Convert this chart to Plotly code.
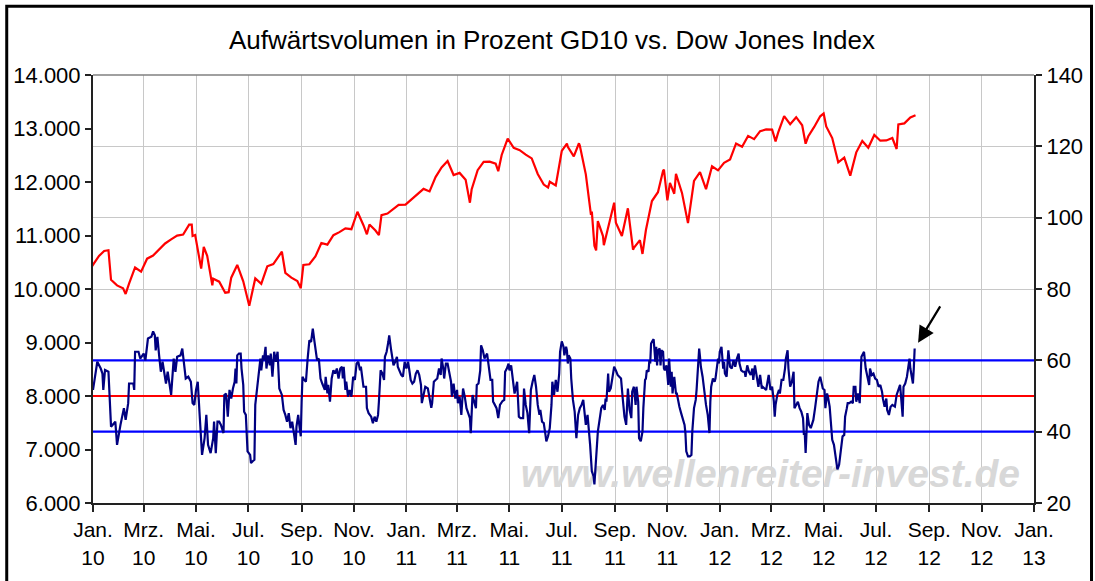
import plotly.graph_objects as go
import pandas as pd

# ---------------- data ----------------
dow_dates = [
    "2009-12-31", "2010-01-08", "2010-01-14", "2010-01-19", "2010-01-22", "2010-01-29", "2010-02-05", "2010-02-08",
    "2010-02-12", "2010-02-19", "2010-02-26", "2010-03-05", "2010-03-12", "2010-03-19", "2010-03-26", "2010-04-02",
    "2010-04-09", "2010-04-16", "2010-04-23", "2010-04-26", "2010-04-27", "2010-04-30", "2010-05-06", "2010-05-07",
    "2010-05-10", "2010-05-14", "2010-05-20", "2010-05-21", "2010-05-28", "2010-06-04", "2010-06-08", "2010-06-11",
    "2010-06-18", "2010-06-25", "2010-07-02", "2010-07-09", "2010-07-16", "2010-07-23", "2010-07-30", "2010-08-09",
    "2010-08-13", "2010-08-20", "2010-08-27", "2010-08-31", "2010-09-03", "2010-09-10", "2010-09-17", "2010-09-24",
    "2010-10-01", "2010-10-08", "2010-10-15", "2010-10-22", "2010-10-29", "2010-11-05", "2010-11-12", "2010-11-16",
    "2010-11-19", "2010-11-26", "2010-11-30", "2010-12-03", "2010-12-10", "2010-12-17", "2010-12-23", "2010-12-31",
    "2011-01-07", "2011-01-14", "2011-01-21", "2011-01-28", "2011-02-04", "2011-02-11", "2011-02-18", "2011-02-25",
    "2011-03-04", "2011-03-11", "2011-03-16", "2011-03-18", "2011-03-25", "2011-04-01", "2011-04-08", "2011-04-15",
    "2011-04-18", "2011-04-22", "2011-04-29", "2011-05-06", "2011-05-13", "2011-05-20", "2011-05-27", "2011-06-03",
    "2011-06-10", "2011-06-15", "2011-06-17", "2011-06-24", "2011-07-01", "2011-07-07", "2011-07-08", "2011-07-15",
    "2011-07-21", "2011-07-22", "2011-07-29", "2011-08-04", "2011-08-05", "2011-08-08", "2011-08-10", "2011-08-12",
    "2011-08-18", "2011-08-19", "2011-08-26", "2011-08-31", "2011-09-02", "2011-09-09", "2011-09-16", "2011-09-22",
    "2011-09-23", "2011-09-30", "2011-10-03", "2011-10-07", "2011-10-14", "2011-10-21", "2011-10-27", "2011-10-28",
    "2011-11-01", "2011-11-04", "2011-11-09", "2011-11-11", "2011-11-18", "2011-11-25", "2011-12-02", "2011-12-09",
    "2011-12-16", "2011-12-23", "2011-12-30", "2012-01-06", "2012-01-13", "2012-01-20", "2012-01-27", "2012-02-03",
    "2012-02-10", "2012-02-17", "2012-02-24", "2012-03-02", "2012-03-06", "2012-03-09", "2012-03-16", "2012-03-23",
    "2012-03-30", "2012-04-06", "2012-04-10", "2012-04-13", "2012-04-20", "2012-04-27", "2012-05-01", "2012-05-04",
    "2012-05-11", "2012-05-18", "2012-05-25", "2012-06-01", "2012-06-08", "2012-06-15", "2012-06-22", "2012-06-29",
    "2012-07-06", "2012-07-13", "2012-07-20", "2012-07-25", "2012-07-27", "2012-08-03", "2012-08-10", "2012-08-16",
]
dow_close = [
    10428, 10618, 10711, 10725, 10172, 10067, 10012, 9908,
    10099, 10402, 10325, 10567, 10625, 10742, 10851, 10927,
    10997, 11019, 11204, 11205, 10991, 11009, 10520, 10380,
    10785, 10620, 10068, 10193, 10137, 9931, 9940, 10212,
    10450, 10143, 9686, 10198, 10097, 10424, 10466, 10698,
    10303, 10213, 10150, 10015, 10448, 10463, 10607, 10860,
    10829, 11006, 11063, 11133, 11118, 11444, 11192, 11023,
    11204, 11092, 11006, 11382, 11410, 11492, 11573, 11578,
    11674, 11787, 11871, 11824, 12092, 12273, 12391, 12130,
    12170, 12044, 11613, 11859, 12220, 12376, 12380, 12342,
    12202, 12505, 12811, 12638, 12596, 12512, 12441, 12151,
    11952, 11898, 12004, 11934, 12582, 12719, 12657, 12480,
    12724, 12681, 12143, 11384, 11445, 10810, 10720, 11269,
    10990, 10818, 11285, 11614, 11240, 10992, 11509, 10734,
    10771, 10913, 10655, 11103, 11644, 11809, 12209, 12231,
    11657, 11983, 11780, 12153, 11796, 11231, 12019, 12184,
    11867, 12294, 12218, 12360, 12422, 12720, 12660, 12862,
    12801, 12950, 12983, 12978, 12759, 12922, 13233, 13081,
    13212, 13060, 12716, 12850, 13029, 13228, 13279, 13038,
    12821, 12369, 12455, 12119, 12554, 12767, 12640, 12880,
    12772, 12777, 12822, 12617, 13075, 13096, 13207, 13250,
]

# upvolume percentage, 10-day average (days counted from 2010-01-01)
gd10_days = [
    0, 5, 9, 11, 12, 14, 18, 19, 21, 26,
    28, 32, 36, 38, 41, 42, 47, 48, 49, 53,
    55, 59, 61, 64, 68, 70, 72, 73, 75, 77,
    79, 81, 85, 87, 91, 94, 96, 98, 102, 104,
    106, 108, 111, 114, 116, 118, 120, 122, 124, 127,
    130, 132, 134, 137, 140, 141, 143, 145,
    147, 149, 152, 153, 155, 157, 159, 161, 163, 165,
    166, 167, 168, 170, 172, 173, 175, 176, 178, 180,
    183, 184, 186, 188, 189, 190, 191, 193, 195, 196,
    198, 199, 201, 202, 204, 206, 207, 209, 211, 213,
    215, 216, 217, 220, 222, 224, 226, 228, 230, 232,
    234, 236, 237, 239, 240, 242, 243, 244, 246, 248,
    250, 252, 254, 256, 258, 260, 261, 263, 265, 267,
    270, 271, 273, 274, 276, 278, 280, 282, 284, 286,
    288, 290, 291, 292, 294, 295, 297, 299, 301,
    303, 305, 307, 309, 311, 312, 314, 315, 318, 319,
    321, 324, 326, 328, 330, 332, 333, 335, 337, 339,
    340, 342, 344, 345, 347, 349, 350, 352, 354, 355,
    357, 359, 361, 363, 365, 367, 369, 370, 372, 374,
    376, 378, 380, 382, 383, 385, 387, 390, 392, 394,
    395, 397, 399, 401, 403, 405, 406, 408, 409, 411,
    413, 415, 417, 418, 420, 422, 424, 425, 427, 429,
    431, 433, 435, 437, 439, 440, 442, 444, 446, 447,
    449, 451, 452, 454, 456,
    459, 461, 463, 465, 466, 467, 470, 472, 474, 477,
    479, 480, 482, 484, 485, 487, 489, 491, 492, 494,
    496, 498, 501, 502, 504, 506, 508, 509, 510, 512,
    514, 516, 518, 520, 521, 523, 525, 527, 528, 530,
    532, 534, 535, 537, 539, 541, 543, 544, 546, 548,
    549, 551, 552, 553, 554, 556, 557, 559, 561, 563,
    565, 567, 569, 571, 573, 574, 576, 578, 579, 581,
    583, 584, 586, 588, 590, 592, 594, 596, 597, 598,
    600, 601, 603, 605, 607, 609, 611, 613,
    615, 617, 619, 621, 622, 623, 625, 627, 628, 630,
    632, 633, 635, 636, 638, 640, 641, 643, 644, 645,
    647, 648, 649, 650, 652, 653, 655, 656, 657, 658,
    660, 661, 662, 664, 665, 666, 668, 670, 671, 673,
    674, 675, 677, 678, 679, 680, 682, 683, 685, 687,
    689, 690, 691, 693, 695, 697, 698, 700, 702, 703,
    705, 706, 707, 708, 710, 711, 713, 714, 716, 718,
    719, 720, 722, 724, 725, 727, 728, 729, 730, 732,
    734, 735, 736, 738, 740, 742, 744, 746, 748, 750,
    752, 753, 755, 757, 759, 760, 762, 764, 766, 768,
    769,
    771, 773, 775, 777, 779, 780, 782, 784, 786, 787,
    789, 791, 793, 794, 795, 797, 799, 800, 802, 804,
    806, 807, 809, 810, 812, 814, 816, 817, 819, 821,
    823, 825, 827, 828, 829, 830, 832, 834, 836, 837,
    839, 841, 843, 845, 847, 849, 850, 852, 853, 855,
    856, 858, 860, 861, 863, 865, 867, 869, 871, 873,
    875, 876, 878, 879, 881, 883, 885, 886, 888, 889,
    891, 893, 895, 897,
    898, 900, 902, 904, 905, 907, 909, 911, 913, 915,
    917, 919, 920, 922, 924, 925, 927, 929, 931, 933,
    934, 936, 938, 940, 941, 943, 944, 946, 948, 950,
    951, 952, 954, 955, 956, 957,
]
gd10_vals = [
    51.7, 59.6, 57.7, 56.3, 51.7, 57.3, 56.8, 49.8, 41.4, 42.8,
    36.3, 41.9, 46.6, 43.3, 48.0, 53.5, 53.5, 51.7, 62.4, 62.4,
    60.5, 61.9, 60.0, 66.1, 66.6, 68.1, 67.0, 62.8, 66.6, 61.4,
    56.8, 59.6, 53.5, 56.8, 50.3, 60.5, 56.8, 61.0, 61.4, 63.3,
    58.6, 54.9, 55.4, 54.0, 48.0, 47.5, 51.7, 54.0, 45.6, 33.5,
    38.2, 44.7, 36.3, 34.0, 38.2, 42.8, 34.0, 42.8,
    42.8, 41.9, 39.6, 50.3, 50.7, 44.2, 51.7, 49.3, 52.1, 54.0,
    57.7, 53.5, 61.4, 61.9, 61.9, 57.7, 53.1, 45.6, 44.7, 34.5,
    33.5, 31.2, 31.7, 32.1, 47.5, 49.8, 52.1, 57.7, 60.5, 57.2,
    61.4, 60.0, 63.8, 57.7, 61.4, 58.6, 61.9, 55.4, 62.4, 59.6,
    62.4, 57.2, 52.1, 50.3, 46.1, 44.7, 42.8, 45.2, 41.0, 42.8,
    38.7, 36.3, 41.4, 44.7, 42.4, 38.7, 48.4, 55.4, 54.5, 54.0,
    60.5, 65.6, 65.2, 68.9, 65.2, 60.5, 60.0, 60.5, 54.9, 53.5,
    51.7, 55.4, 50.7, 53.1, 48.4, 54.9, 57.2, 56.3, 57.7, 54.9,
    57.7, 58.2, 54.9, 58.2, 51.7, 54.0, 49.8, 51.7, 49.8,
    55.4, 54.5, 59.1, 59.6, 57.2, 58.2, 54.5, 52.6, 52.6, 46.6,
    45.2, 44.2, 42.4, 44.2, 42.8, 44.7, 48.4, 57.2, 56.3, 54.5,
    61.0, 62.4, 65.2, 67.0, 63.3, 59.6, 58.6, 59.6, 61.0, 58.2,
    56.8, 55.9, 55.4, 59.6, 57.7, 59.6, 56.3, 54.5, 53.5, 54.0,
    56.3, 57.2, 55.9, 53.1, 48.0, 50.3, 52.6, 52.1, 49.3, 46.7,
    48.0, 54.0, 54.5, 54.9, 57.7, 55.9, 60.5, 57.7, 54.9, 59.1,
    59.1, 56.3, 54.0, 49.8, 53.5, 49.3, 51.7, 48.0, 49.8, 44.7,
    52.1, 49.8, 46.6, 45.2, 43.8, 39.6, 50.3, 48.4, 46.6, 53.1,
    53.5, 57.2, 64.2, 62.8, 60.5,
    61.9, 57.7, 54.5, 54.5, 48.4, 48.0, 46.6, 43.8, 47.5, 48.6,
    48.9, 56.8, 57.7, 59.1, 57.2, 58.6, 54.5, 50.7, 51.7, 54.0,
    44.2, 43.8, 43.8, 52.1, 47.5, 45.2, 39.6, 45.2, 51.7, 54.0,
    55.9, 52.6, 47.5, 44.7, 46.1, 42.8, 42.4, 39.1, 37.3, 38.7,
    41.0, 47.5, 54.0, 50.3, 54.5, 51.2, 56.3, 62.4, 65.3, 63.8,
    61.4, 63.8, 62.8, 59.1, 61.4, 60.5, 54.9, 48.9, 45.6, 38.2,
    44.7, 46.6, 47.5, 48.9, 44.2, 41.9, 44.7, 36.8, 36.3, 28.9,
    27.5, 25.2, 33.5, 40.0, 43.3, 46.6, 47.5, 46.1, 49.3, 48.4,
    56.3, 51.2, 52.1, 55.4, 58.2, 57.2, 55.9, 55.4,
    54.9, 49.3, 44.2, 41.9, 48.0, 52.1, 46.1, 43.8, 51.2, 52.6,
    47.5, 52.6, 48.4, 38.2, 37.3, 40.0, 46.6, 54.5, 54.9, 57.2,
    56.8, 60.0, 59.1, 64.7, 65.6, 65.9, 59.6, 63.8, 58.6, 62.8,
    63.3, 58.6, 62.8, 62.4, 57.7, 57.2, 58.6, 53.1, 60.5, 52.6,
    56.8, 50.7, 55.4, 52.6, 50.7, 50.7, 48.0, 47.0, 45.2, 43.3,
    41.9, 39.6, 34.5, 33.1, 33.1, 33.5, 40.0, 46.6, 48.9, 51.7,
    58.6, 63.3, 61.0, 58.2, 55.4, 53.1, 49.3, 47.5, 44.7, 39.6,
    48.4, 52.6, 54.9, 54.0, 54.9, 59.6, 60.5, 59.1, 62.4, 63.8,
    57.7, 59.6, 56.3, 55.4, 62.8, 58.2, 57.7, 60.0, 58.2, 60.5,
    61.9, 59.1, 57.2, 56.8, 56.8, 55.4, 58.6, 56.8, 55.9, 57.7,
    54.5,
    58.6, 55.4, 52.6, 55.9, 52.1, 52.6, 52.1, 51.7, 54.5, 55.9,
    51.7, 52.6, 48.4, 44.2, 47.5, 50.3, 51.7, 50.7, 54.5, 54.5,
    57.7, 60.5, 62.8, 57.7, 52.6, 54.0, 56.8, 46.6, 47.5, 48.4,
    46.6, 45.6, 43.8, 39.1, 39.6, 34.0, 45.2, 41.9, 41.0, 41.9,
    43.3, 46.6, 50.7, 54.0, 55.4, 53.5, 52.1, 51.7, 46.6, 50.7,
    49.8, 47.0, 41.4, 37.7, 36.3, 32.1, 29.4, 30.7, 34.5, 38.7,
    39.1, 44.2, 46.6, 48.0, 48.0, 48.4, 48.0, 52.6, 52.6, 48.4,
    50.7, 48.0, 61.0, 61.9,
    62.4, 57.7, 54.9, 53.1, 57.7, 55.9, 56.3, 54.9, 54.5, 52.6,
    53.1, 51.2, 49.3, 47.0, 49.3, 46.1, 44.7, 47.0, 47.5, 47.0,
    47.0, 50.3, 52.1, 53.1, 50.3, 44.2, 52.6, 53.5, 55.4, 60.0,
    60.5, 57.7, 54.5, 53.5, 57.7, 63.3,
]
assert len(gd10_days) == len(gd10_vals), (len(gd10_days), len(gd10_vals))

level_upper = 60
level_mid = 50
level_lower = 40

left_ticks = [6000, 7000, 8000, 9000, 10000, 11000, 12000, 13000, 14000]
right_ticks = [20, 40, 60, 80, 100, 120, 140]
month_names = {1: "Jan.", 3: "Mrz.", 5: "Mai.", 7: "Jul.", 9: "Sep.", 11: "Nov."}
x_start, x_end = "2010-01-01", "2013-01-01"

# ---------------- figure ----------------
FONT = "Arial, Liberation Sans, sans-serif"
W, H = 1095, 581
ML, MR, MT, MB = 93, 53, 75, 76
PW, PH = W - ML - MR, H - MT - MB


def px_x(p):
    return (p - ML) / PW


def px_y(p):
    return 1 - (p - MT) / PH


base = pd.Timestamp(x_start)
gd10_dates = [base + pd.Timedelta(days=d) for d in gd10_days]
tick_dates = pd.date_range(x_start, x_end, freq="2MS")
tick_text = [f"{month_names[d.month]}<br>{d.strftime('%y')}" for d in tick_dates]

fig = go.Figure()

# watermark (below the lines)
fig.add_trace(go.Scatter(
    x=[base + pd.Timedelta(days=789)], y=[27.2], yaxis="y2",
    mode="text", text=["www.wellenreiter-invest.de"],
    textfont=dict(family=FONT, size=39, color="#d8d8d8", weight="bold", style="italic"),
    hoverinfo="skip", showlegend=False, cliponaxis=False,
))

# level lines
for lvl, col in [(level_upper, "#0000ff"), (level_mid, "#ff0000"), (level_lower, "#0000ff")]:
    fig.add_trace(go.Scatter(
        x=[x_start, x_end], y=[lvl, lvl], yaxis="y2", mode="lines",
        line=dict(color=col, width=2.2), hoverinfo="skip", showlegend=False,
    ))

fig.add_trace(go.Scatter(
    x=gd10_dates, y=gd10_vals, yaxis="y2", mode="lines",
    line=dict(color="#000080", width=2.2), name="GD10", showlegend=False,
))

fig.add_trace(go.Scatter(
    x=dow_dates, y=dow_close, yaxis="y", mode="lines",
    line=dict(color="#ff0000", width=2.2), name="Dow Jones", showlegend=False,
))

fig.update_layout(
    width=W, height=H,
    margin=dict(l=ML, r=MR, t=MT, b=MB),
    paper_bgcolor="white", plot_bgcolor="white",
    separators=",.",
    font=dict(family=FONT, color="#000000", size=20),
    title=dict(
        text="Aufwärtsvolumen in Prozent GD10 vs. Dow Jones Index",
        font=dict(family=FONT, size=26, color="#000000"),
        xref="container", x=552 / W, xanchor="center",
        yref="container", y=1 - 40 / H, yanchor="middle",
    ),
    xaxis=dict(
        type="date", range=[x_start, x_end],
        tickmode="array", tickvals=list(tick_dates), ticktext=tick_text,
        tickfont=dict(family=FONT, size=21, color="#000000"),
        showgrid=True, gridcolor="#c8c8c8", gridwidth=1,
        showline=True, linecolor="#222222", linewidth=2,
        ticks="outside", ticklen=7, tickwidth=2, tickcolor="#222222",
        zeroline=False,
    ),
    yaxis=dict(
        range=[6000, 14000], tickmode="array", tickvals=left_ticks,
        tickformat=",d",
        tickfont=dict(family=FONT, size=22, color="#000000"),
        showgrid=False, zeroline=False,
        showline=True, linecolor="#222222", linewidth=2,
        ticks="outside", ticklen=6, tickwidth=2, tickcolor="#222222",
    ),
    yaxis2=dict(
        range=[20, 140], tickmode="array", tickvals=right_ticks,
        overlaying="y", side="right",
        tickfont=dict(family=FONT, size=22, color="#000000"),
        showgrid=True, gridcolor="#c8c8c8", gridwidth=1, zeroline=False,
        showline=True, linecolor="#222222", linewidth=2,
        ticks="outside", ticklen=6, tickwidth=2, tickcolor="#222222",
    ),
    showlegend=False,
    shapes=[
        # top border of the plot area
        dict(type="line", xref="paper", yref="paper", x0=0, x1=1, y0=1, y1=1,
             line=dict(color="#808080", width=1.5)),
        # outer chart frame
        dict(type="rect", xref="paper", yref="paper",
             x0=px_x(6), x1=px_x(1100), y0=px_y(6), y1=px_y(600),
             line=dict(color="#000000", width=3), fillcolor="rgba(0,0,0,0)"),
    ],
    annotations=[
        dict(x=base + pd.Timedelta(days=961), y=64.9, xref="x", yref="y2",
             ax=23, ay=-38, axref="pixel", ayref="pixel",
             showarrow=True, arrowhead=2, arrowsize=1.5, arrowwidth=2.2,
             arrowcolor="#000000", text=""),
    ],
)

fig.write_html(
    "out.html",
    config={"displayModeBar": False},
    post_script="document.body.style.margin='0';document.body.style.overflow='hidden';",
)
